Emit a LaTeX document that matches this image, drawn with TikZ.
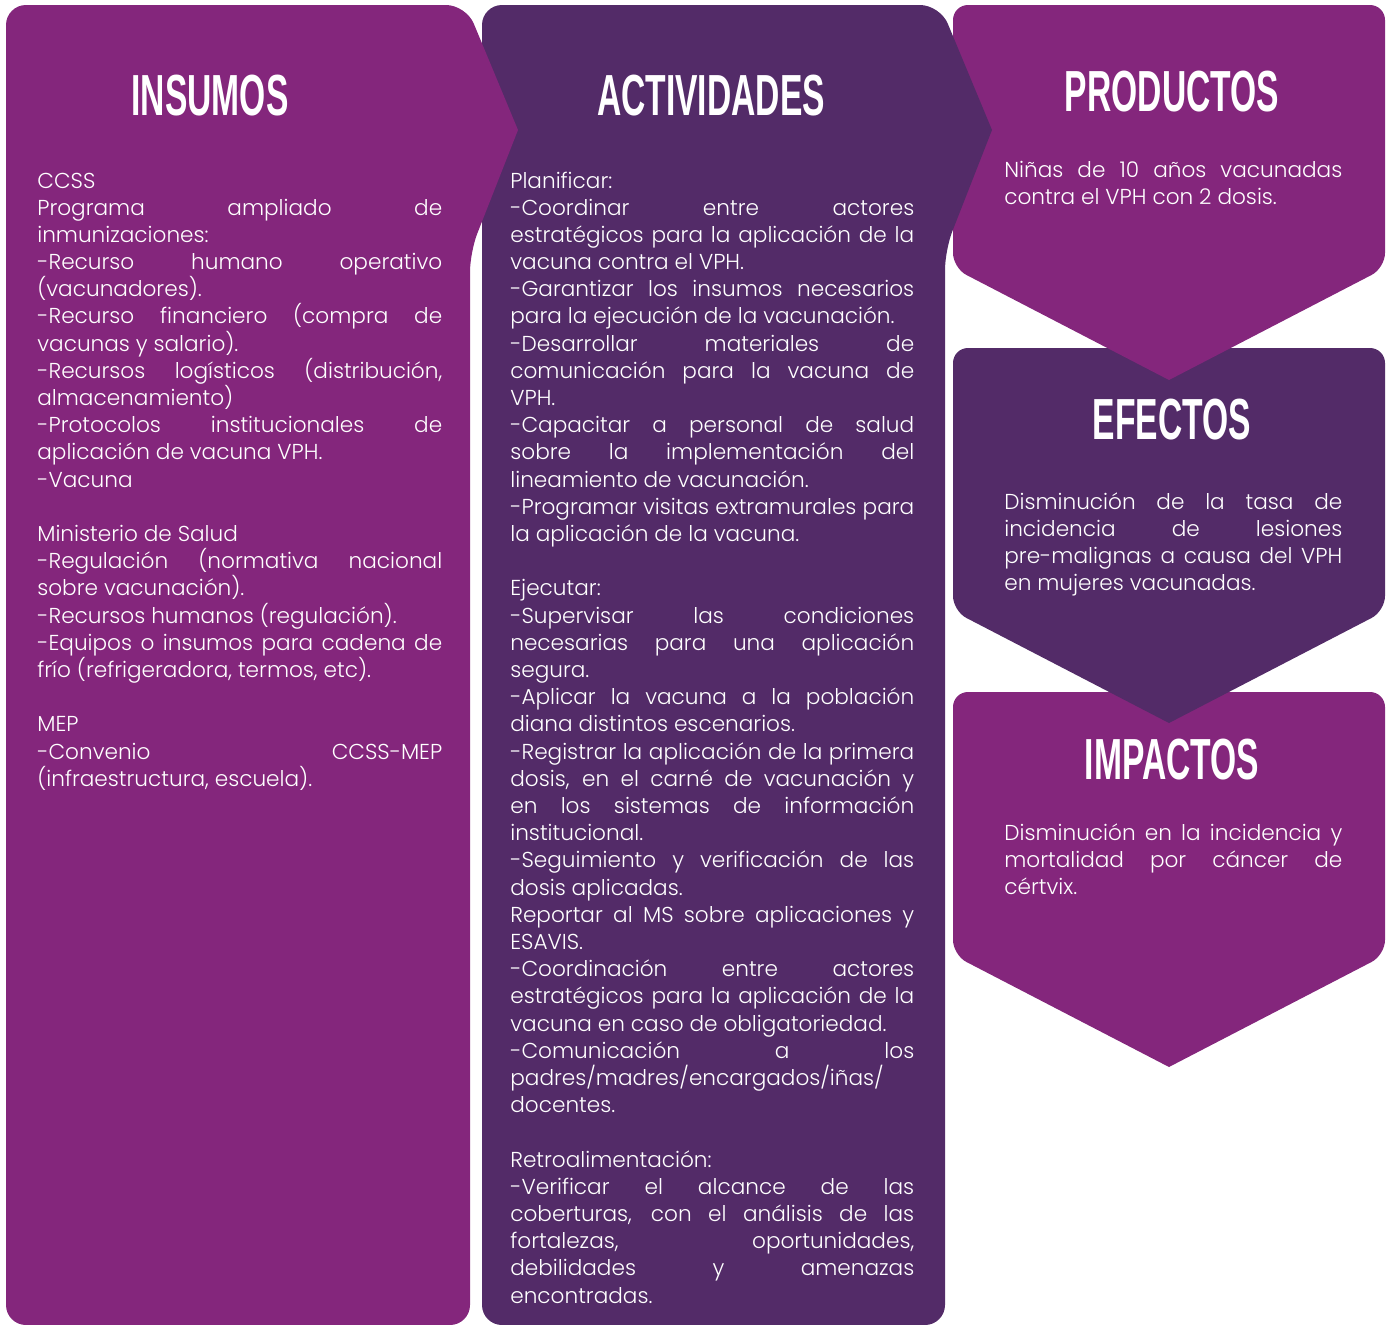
\documentclass[tikz,border=0pt]{standalone}
\usepackage{fontspec}
\setmainfont{Poppins}[UprightFont=* Light]
\newfontfamily\headfont{Liberation Sans}[FakeStretch=0.58]
\definecolor{violeta}{HTML}{84267C}
\definecolor{uva}{HTML}{532B68}
\hyphenpenalty=10000
\tikzset{
  titulo/.style={text=white,inner sep=0pt,font=\headfont\bfseries\fontsize{33}{33}\selectfont},
  cuerpo/.style={text=white,inner sep=0pt,anchor=base west,align=justify,
    font=\fontsize{12.3}{15.48}\selectfont},
  flecha/.style={rounded corners=0.4cm},
  baja/.style={rounded corners=0.3cm},
}

\begin{document}
\begin{tikzpicture}[x=0.02cm,y=-0.02cm]
  \useasboundingbox (0,0) rectangle (1390,1325);
  % columna derecha: de abajo hacia arriba, cada punta tapa la caja siguiente
  \fill[violeta,baja] (953,692) -- (1385,692) -- (1385,955) [sharp corners] -- (1169,1067) [baja] -- (953,955) -- cycle;
  \fill[uva,baja] (953,348) -- (1385,348) -- (1385,611) [sharp corners] -- (1169,723) [baja] -- (953,611) -- cycle;
  \fill[violeta,baja] (953,5) -- (1385,5) -- (1385,268) [sharp corners] -- (1169,380) [baja] -- (953,268) -- cycle;
  % columnas de insumos y actividades
  \fill[uva,flecha] (482,5) -- (940,5) [sharp corners] -- (992,130) [flecha] -- (945,250) -- (945,1325) -- (482,1325) -- cycle;
  \fill[violeta,flecha] (6,5) -- (466,5) [sharp corners] -- (518,130) [flecha] -- (470,252) -- (470,1325) -- (6,1325) -- cycle;

  \node[titulo] (insumos) at (210,96) {INSUMOS};
  \node[titulo] (actividades) at (711,96) {ACTIVIDADES};
  \node[titulo] (productos) at (1172,92) {PRODUCTOS};
  \node[titulo] (efectos) at (1172,420) {EFECTOS};
  \node[titulo] (impactos) at (1172,760) {IMPACTOS};

  \node[cuerpo,text width=8.1cm] (txtinsumos) at (37,188) {%
    CCSS\\
    Programa ampliado de\linebreak inmunizaciones:\\
    -Recurso humano operativo\linebreak (vacunadores).\\
    -Recurso financiero (compra de\linebreak vacunas y salario).\\
    -Recursos logísticos (distribución,\linebreak almacenamiento)\\
    -Protocolos institucionales de\linebreak aplicación de vacuna VPH.\\
    -Vacuna\\[\baselineskip]
    Ministerio de Salud\\
    -Regulación (normativa nacional\linebreak sobre vacunación).\\
    -Recursos humanos (regulación).\\
    -Equipos o insumos para cadena de\linebreak frío (refrigeradora, termos, etc).\\[\baselineskip]
    MEP\\
    -Convenio CCSS-MEP\linebreak (infraestructura, escuela).};

  \node[cuerpo,text width=8.08cm] (txtactividades) at (510,188) {%
    Planificar:\\
    -Coordinar entre actores\linebreak estratégicos para la aplicación de la\linebreak vacuna contra el VPH.\\
    -Garantizar los insumos necesarios\linebreak para la ejecución de la vacunación.\\
    -Desarrollar materiales de\linebreak comunicación para la vacuna de\linebreak VPH.\\
    -Capacitar a personal de salud\linebreak sobre la implementación del\linebreak lineamiento de vacunación.\\
    -Programar visitas extramurales para\linebreak la aplicación de la vacuna.\\[\baselineskip]
    Ejecutar:\\
    -Supervisar las condiciones\linebreak necesarias para una aplicación\linebreak segura.\\
    -Aplicar la vacuna a la población\linebreak diana distintos escenarios.\\
    -Registrar la aplicación de la primera\linebreak dosis, en el carné de vacunación y\linebreak en los sistemas de información\linebreak institucional.\\
    -Seguimiento y verificación de las\linebreak dosis aplicadas.\\
    Reportar al MS sobre aplicaciones y\linebreak ESAVIS.\\
    -Coordinación entre actores\linebreak estratégicos para la aplicación de la\linebreak vacuna en caso de obligatoriedad.\\
    -Comunicación a los\linebreak padres/madres/encargados/iñas/\linebreak docentes.\\[\baselineskip]
    Retroalimentación:\\
    -Verificar el alcance de las\linebreak coberturas, con el análisis de las\linebreak fortalezas, oportunidades,\linebreak debilidades y amenazas\linebreak encontradas.};

  \node[cuerpo,text width=6.76cm] (txtproductos) at (1004,177) {%
    Niñas de 10 años vacunadas\linebreak contra el VPH con 2 dosis.};
  \node[cuerpo,text width=6.76cm] (txtefectos) at (1004,509) {%
    Disminución de la tasa de\linebreak incidencia de lesiones\linebreak pre-malignas a causa del VPH\linebreak en mujeres vacunadas.};
  \node[cuerpo,text width=6.76cm] (txtimpactos) at (1004,840) {%
    Disminución en la incidencia y\linebreak mortalidad por cáncer de\linebreak cértvix.};
\end{tikzpicture}
\end{document}
